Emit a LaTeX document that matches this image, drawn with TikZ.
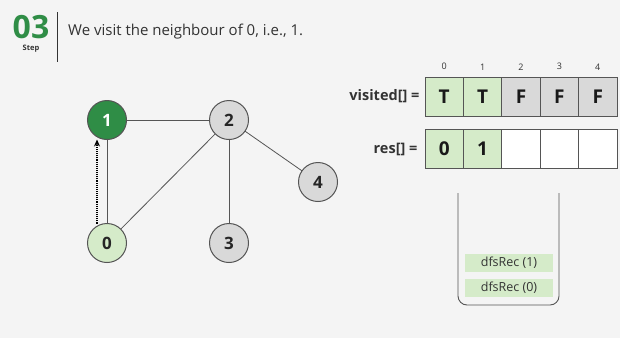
\documentclass[tikz,border=0pt]{standalone}
\usepackage{fontspec}
\setmainfont{Open Sans}
\usepackage{tikz,tkz-graph}
\usetikzlibrary{arrows.meta,positioning}

\definecolor{gfgreen}{HTML}{2F8D46}
\definecolor{lightgreen}{HTML}{D5EBC9}
\definecolor{nodegray}{HTML}{D9D9D9}
\definecolor{linegray}{HTML}{555555}
\definecolor{bggray}{HTML}{F4F4F4}
\definecolor{txtgray}{HTML}{333333}

\tikzset{
	VertexStyle/.style	= {circle,draw=linegray,line width=1pt,fill=nodegray,minimum size=39pt,inner sep=0pt,
						   text=black!85,font=\bfseries\fontsize{17}{17}\selectfont},
	EdgeStyle/.style	= {draw=linegray,line width=0.8pt},
	cell/.style			= {draw=linegray,line width=0.8pt,minimum width=38.4pt,minimum height=39pt,inner sep=0pt,
						   text=black!90,font=\bfseries\fontsize{19}{19}\selectfont},
	idx/.style			= {text=txtgray,font=\fontsize{9}{9}\selectfont},
	arrlabel/.style		= {text=txtgray,font=\bfseries\fontsize{14.5}{14.5}\selectfont,inner sep=0pt},
	frame/.style		= {fill=lightgreen,minimum width=88pt,minimum height=18pt,inner sep=0pt,
						   text=txtgray,font=\fontsize{12.5}{12.5}\selectfont}
}

\begin{document}
\begin{tikzpicture}[x=1pt,y=-1pt]
	\useasboundingbox[fill=bggray] (0,0) rectangle (620,338);

	% header
	\node[text=gfgreen,font=\bfseries\fontsize{32}{32}\selectfont,inner sep=0pt] (stepno) at (31,27) {03};
	\node[text=txtgray,font=\bfseries\fontsize{7.5}{7.5}\selectfont,inner sep=0pt] (steptxt) at (31,49) {Step};
	\draw[line width=1pt,txtgray] (57,12) -- (57,62);
	\node[anchor=west,text=txtgray,font=\fontsize{15}{15}\selectfont,inner sep=0pt] (title) at (68,32)
		{We visit the neighbour of 0, i.e., 1.};

	% graph
	\begin{scope}[VertexStyle/.append style={fill=gfgreen,text=white}]
	\Vertex[x=107,y=120]	{1}
	\end{scope}
	\Vertex[x=229,y=120]	{2}
	\Vertex[x=318,y=182]	{4}
	\begin{scope}[VertexStyle/.append style={fill=lightgreen}]
	\Vertex[x=107,y=243]	{0}
	\end{scope}
	\Vertex[x=229,y=243]	{3}

	\Edge			(1)(2)
	\Edge			(1)(0)
	\Edge			(0)(2)
	\Edge			(2)(3)
	\Edge			(2)(4)

	\draw[densely dotted,line width=1.1pt,-{Stealth[length=7pt,width=6pt]}]
		([xshift=-10pt]0.north) -- ([xshift=-10pt]1.south);

	% visited[]
	\node[cell,fill=lightgreen]	(v0) at (444.2,96.5)	{T};
	\node[cell,fill=lightgreen]	(v1) at (482.6,96.5)	{T};
	\node[cell,fill=nodegray]	(v2) at (521.0,96.5)	{F};
	\node[cell,fill=nodegray]	(v3) at (559.4,96.5)	{F};
	\node[cell,fill=nodegray]	(v4) at (597.8,96.5)	{F};

	\node[idx,above=3pt of v0]	(i0) {0};
	\node[idx,above=3pt of v1]	(i1) {1};
	\node[idx,above=3pt of v2]	(i2) {2};
	\node[idx,above=3pt of v3]	(i3) {3};
	\node[idx,above=3pt of v4]	(i4) {4};

	\node[arrlabel,left=5pt of v0]	(vlabel) {visited[] =};

	% res[]
	\node[cell,fill=lightgreen]	(r0) at (444.2,149)	{0};
	\node[cell,fill=lightgreen]	(r1) at (482.6,149)	{1};
	\node[cell,fill=white]		(r2) at (521.0,149)	{};
	\node[cell,fill=white]		(r3) at (559.4,149)	{};
	\node[cell,fill=white]		(r4) at (597.8,149)	{};

	\node[arrlabel,left=7pt of r0]	(rlabel) {res[] =};

	% call stack
	\draw[linegray,line width=0.9pt,rounded corners=9pt] (458,193) |- (559,305) -- (559,193);
	\node[frame]	(call1) at (509,263)	{dfsRec (1)};
	\node[frame]	(call0) at (509,287.5)	{dfsRec (0)};
\end{tikzpicture}
\end{document}
